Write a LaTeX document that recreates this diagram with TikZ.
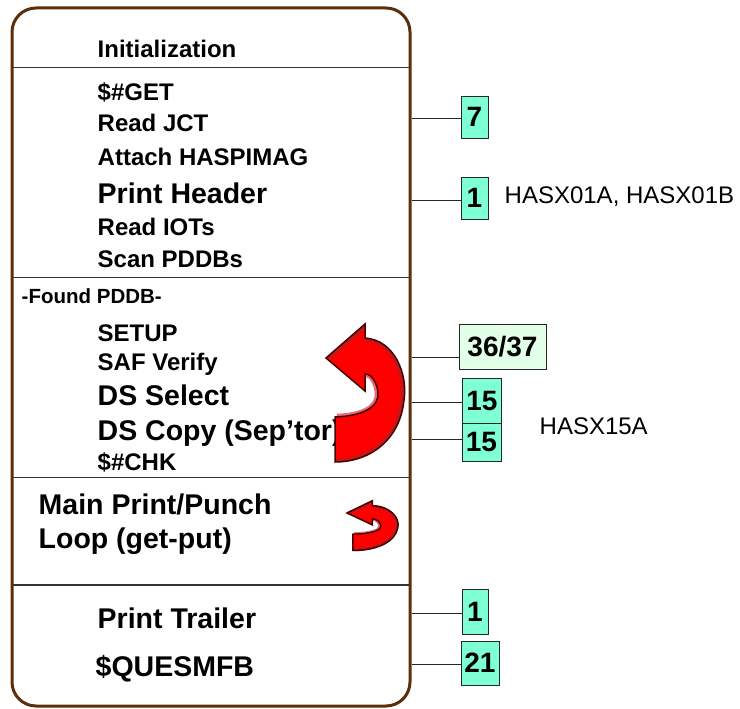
\documentclass[tikz,border=0pt]{standalone}
\usepackage{fontspec}
\setmainfont{Liberation Sans}
\usepackage{xcolor}
\usepackage{tikz}
\usetikzlibrary{positioning,calc}
\definecolor{framebrown}{RGB}{92,46,10}
\definecolor{boxaqua}{RGB}{127,255,212}
\definecolor{boxpale}{RGB}{226,255,232}
\definecolor{arrowred}{RGB}{255,0,0}
\definecolor{arrowedge}{RGB}{70,0,0}
\definecolor{arrowpink}{RGB}{236,104,124}
\definecolor{arrowshade}{RGB}{190,25,25}

\begin{document}
\begin{tikzpicture}[x=1pt, y=-1pt,
  entry/.style={anchor=base west, inner sep=0, font=\bfseries\fontsize{24}{28}\selectfont},
  bigentry/.style={entry, font=\bfseries\fontsize{28.5}{32}\selectfont},
  smallentry/.style={entry, font=\bfseries\fontsize{20.5}{24}\selectfont},
  note/.style={anchor=base west, inner sep=0, font=\fontsize{24}{28}\selectfont},
  countbox/.style={draw=black!85, fill=boxaqua, line width=0.8pt, inner sep=0, font=\bfseries\fontsize{28}{30}\selectfont},
  palebox/.style={countbox, fill=boxpale},
  tie/.style={draw=black!85, line width=0.9pt},
  divider/.style={draw=black!80, line width=1.2pt},
  looparrow/.pic={
    \path[fill=arrowred] (0,0) -- (39,-34) -- (39,-20) .. controls (69,-18) and (82,17) .. (78,42) .. controls (74,82) and (44,104) .. (9,104) -- (9,59) .. controls (35,58) and (53,50) .. (52,35) .. controls (51,24) and (45,16) .. (39,16) -- (39,33) -- cycle;
    \path[draw=arrowpink, line width=2.5pt] (11,57) .. controls (35,56) and (51,49) .. (50,35) .. controls (49,25) and (44,18) .. (40,18);
    \path[draw=arrowshade, line width=3pt] (40,-18) .. controls (67,-16) and (80,17) .. (76,42) .. controls (72,80) and (44,102) .. (10,102);
    \path[draw=arrowshade, line width=3pt] (3,0) -- (38,-30);
    \path[draw=arrowedge, line width=1.5pt, line join=miter] (0,0) -- (39,-34) -- (39,-20) .. controls (69,-18) and (82,17) .. (78,42) .. controls (74,82) and (44,104) .. (9,104) -- (9,59) .. controls (35,58) and (53,50) .. (52,35) .. controls (51,24) and (45,16) .. (39,16) -- (39,33) -- cycle;
  }
]
\useasboundingbox (0,0) rectangle (740,709);

% Section dividers
\draw[divider] (12,67.5) -- (410,67.5);
\draw[divider] (12,277.5) -- (410,277.5);
\draw[divider] (12,477.5) -- (410,477.5);
\draw[divider] (12,585) -- (410,585);

% Initialization
\node[entry] (init) at (97.5,57.3) {Initialization};
\node[entry] (get) at (97.5,100.7) {\$\#GET};
\node[entry] (readjct) at (97.5,131.7) {Read JCT};
\node[entry] (attach) at (97.5,165.7) {Attach HASPIMAG};
\node[bigentry] (header) at (97.5,204) {Print Header};
\node[entry] (readiot) at (97.5,235.7) {Read IOTs};
\node[entry] (scan) at (97.5,267.7) {Scan PDDBs};

% Found PDDB section
\node[smallentry] (found) at (21.5,303.7) {-Found PDDB-};
\node[entry] (setup) at (97.5,341.7) {SETUP};
\node[entry] (saf) at (97.5,370) {SAF Verify};
\node[bigentry] (dsselect) at (97.5,405) {DS Select};
\node[bigentry] (dscopy) at (97.5,440) {DS Copy (Sep'tor)};
\node[entry] (chk) at (97.5,470) {\$\#CHK};
\pic (bigloop) at (326,358) {looparrow};

% Main loop
\node[bigentry] (mainloop) at (38.5,514.7) {Main Print/Punch};
\node[bigentry] (getput) at (38.5,548.3) {Loop (get-put)};
\pic[xscale=0.65, yscale=0.36] (smallloop) at (347,513) {looparrow};

% Trailer
\node[bigentry] (trailer) at (97.5,628.3) {Print Trailer};
\node[bigentry] (quesmfb) at (95.5,676.7) {\$QUESMFB};

% Frame
\draw[framebrown, line width=3pt, rounded corners=24pt] (12,8) rectangle (410,706);

% Count boxes
\node[countbox, minimum width=27pt, minimum height=42pt] (n7) at (474.5,117) {7};
\node[countbox, minimum width=27pt, minimum height=42pt] (n1top) at (474.5,198) {1};
\node[palebox, minimum width=87pt, minimum height=45pt] (n36) at (502.5,346.5) {36/37};
\node[countbox, minimum width=39pt, minimum height=45pt] (n15sel) at (482,401) {15};
\node[countbox, minimum width=39pt, minimum height=38pt] (n15copy) at (481.5,442.5) {15};
\node[countbox, minimum width=26pt, minimum height=45pt] (n1bot) at (475,611.5) {1};
\node[countbox, minimum width=38pt, minimum height=44pt] (n21) at (480,663) {21};

% Module names
\node[note] (hasx01) at (504.5,204) {HASX01A, HASX01B};
\node[note] (hasx15) at (539.5,434) {HASX15A};

% Ties from the frame
\coordinate (t7) at (411.5,118);
\coordinate (t1top) at (411.5,200);
\coordinate (t36) at (411.5,357);
\coordinate (t15sel) at (411.5,402.5);
\coordinate (t15copy) at (411.5,439);
\coordinate (t1bot) at (411.5,613);
\coordinate (t21) at (411.5,664);
\draw[tie] (t7) -- (t7 -| n7.west);
\draw[tie] (t1top) -- (t1top -| n1top.west);
\draw[tie] (t36) -- (t36 -| n36.west);
\draw[tie] (t15sel) -- (t15sel -| n15sel.west);
\draw[tie] (t15copy) -- (t15copy -| n15copy.west);
\draw[tie] (t1bot) -- (t1bot -| n1bot.west);
\draw[tie] (t21) -- (t21 -| n21.west);

\end{tikzpicture}
\end{document}
